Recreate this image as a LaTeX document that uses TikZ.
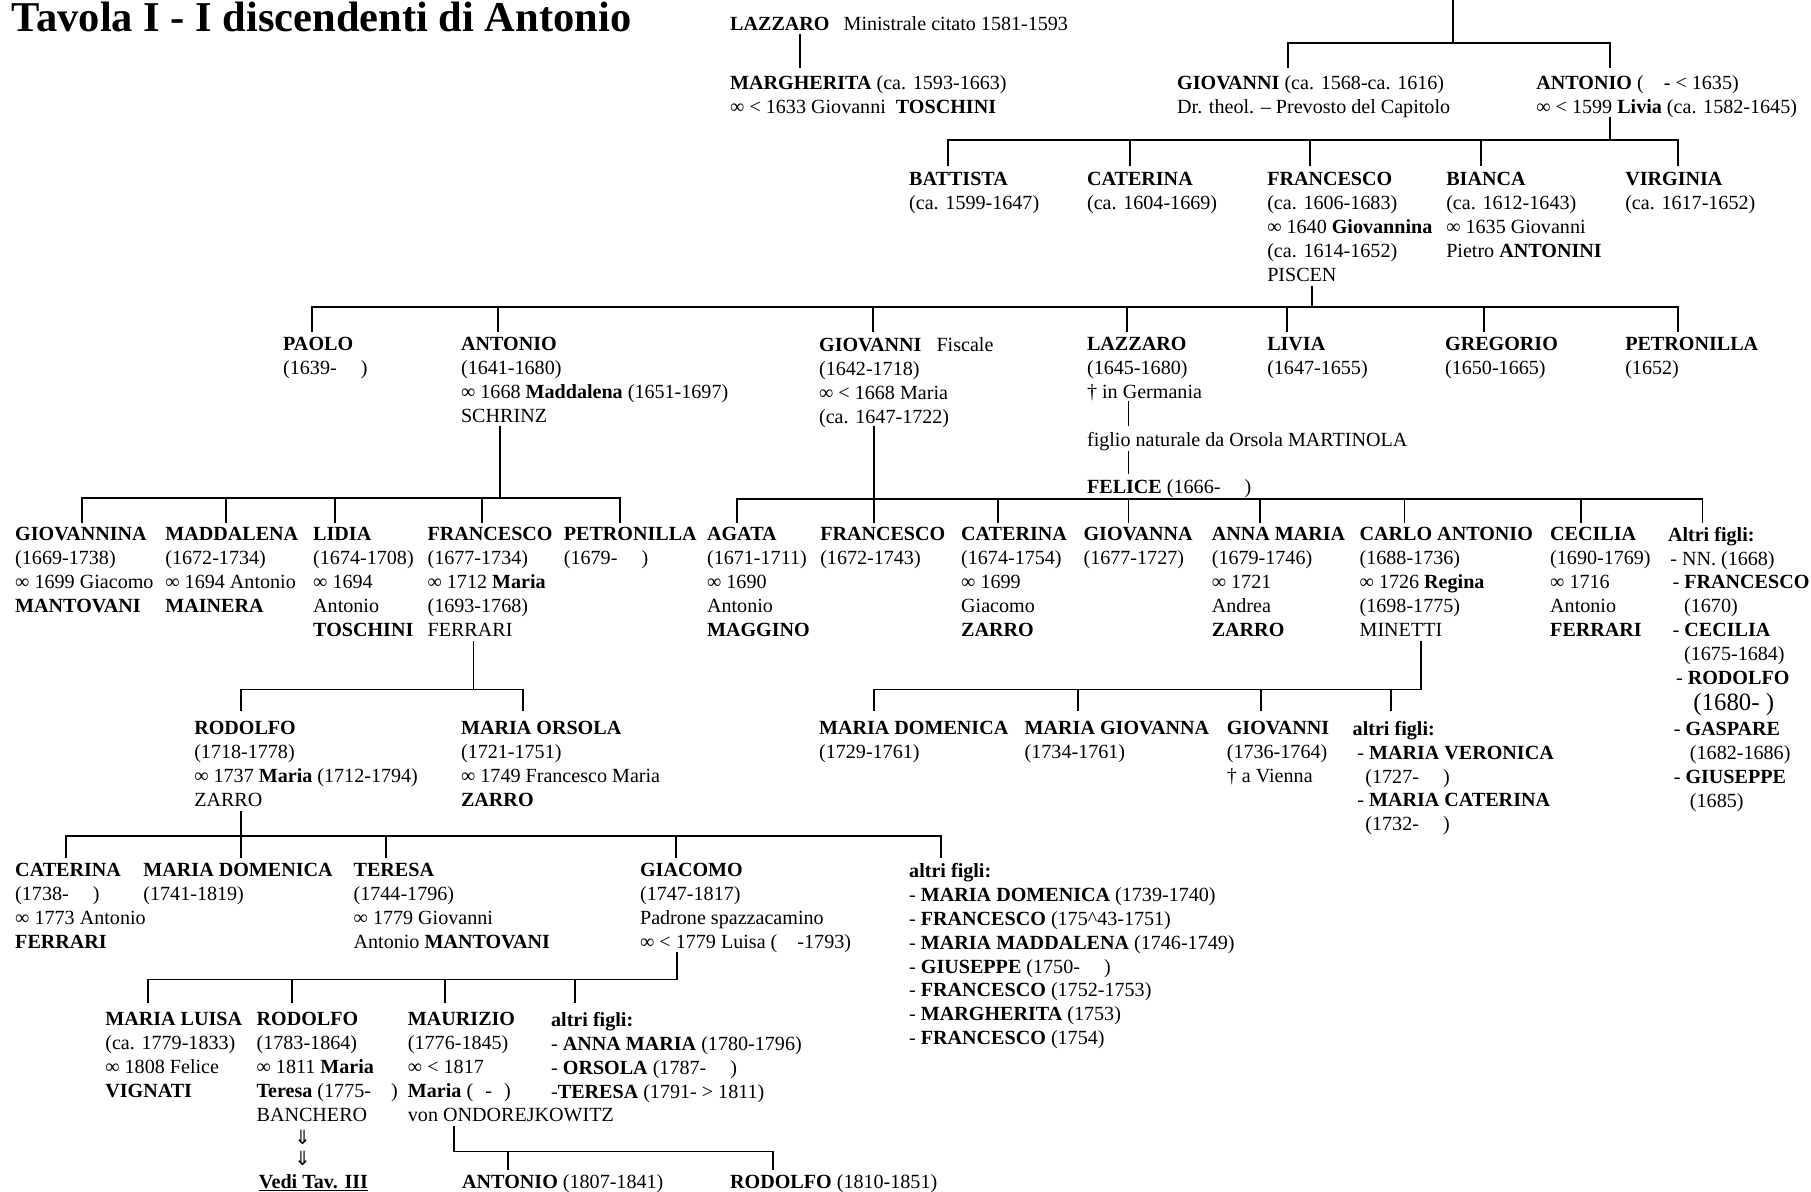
\documentclass[tikz,border=0pt]{standalone}
\usepackage{fontspec}
\usepackage{graphicx}
\setmainfont{Liberation Serif}
\newfontfamily\dejavu{DejaVu Sans}
\newcommand\mrg{∞}
\newcommand\dgap{\hspace{1.2em}}
\tikzset{
  blk/.style={anchor=north west, yshift=11pt, align=left, inner sep=0pt, font=\fontsize{17.4}{20.75}\selectfont, execute at begin node={\rule{0pt}{13pt}}},
  one/.style={anchor=base west, inner sep=0pt, font=\fontsize{17.4}{20.75}\selectfont},
  conn/.style={draw=black, line width=1.6pt, line cap=rect},
  arr/.style={inner sep=0pt, font=\dejavu\fontsize{17}{17}\selectfont}
}
% #1 parent x, #2 parent top y, #3 bar y, #4 child bottom y, #5 child xs, #6 name, #7 bar min x, #8 bar max x
\newcommand\famtree[8]{%
  \coordinate (#6p) at (#1,#2);
  \coordinate (#6b) at (#1,#3);
  \coordinate (#6l) at (#7,#3);
  \coordinate (#6r) at (#8,#3);
  \draw[conn] (#6p) -- (#6b);
  \draw[conn] (#6l) -- (#6r);
  \foreach \cx [count=\ci] in {#5} {
    \coordinate (#6t\ci) at (\cx,#3);
    \coordinate (#6c\ci) at (\cx,#4);
    \draw[conn] (#6t\ci) -- (#6c\ci);
  }%
}
\begin{document}
\begin{tikzpicture}[x=1pt,y=-1pt]
\useasboundingbox (0,0) rectangle (1568,1032);

% title
\node[anchor=base west, inner sep=0pt, font=\fontsize{36.8}{40}\selectfont\bfseries] (title) at (10,27) {Tavola I - I discendenti di Antonio};

% row 1
\node[one] (lazzaro0) at (632,26) {\textbf{LAZZARO}\hspace{0.7em}Ministrale citato 1581-1593};
\node[blk] (margherita) at (632,76) {\textbf{MARGHERITA} (ca. 1593-1663)\\\mrg{} < 1633 Giovanni\hspace{0.5em}\textbf{TOSCHINI}};
\node[blk] (giovanni0) at (1019,76) {\textbf{GIOVANNI} (ca. 1568-ca. 1616)\\Dr. theol. – Prevosto del Capitolo};
\node[blk] (antonio0) at (1330,76) {\textbf{ANTONIO} (\hspace{1em}- < 1635)\\\mrg{} < 1599 \textbf{Livia} (ca. 1582-1645)};

% row 2
\node[blk] (battista) at (787,160) {\textbf{BATTISTA}\\(ca. 1599-1647)};
\node[blk] (caterina1) at (941,160) {\textbf{CATERINA}\\(ca. 1604-1669)};
\node[blk] (francesco1) at (1097,160) {\textbf{FRANCESCO}\\(ca. 1606-1683)\\\mrg{} 1640 \textbf{Giovannina}\\(ca. 1614-1652)\\PISCEN};
\node[blk] (bianca) at (1252,160) {\textbf{BIANCA}\\(ca. 1612-1643)\\\mrg{} 1635 Giovanni\\Pietro \textbf{ANTONINI}};
\node[blk] (virginia) at (1407,160) {\textbf{VIRGINIA}\\(ca. 1617-1652)};

% row 3
\node[blk] (paolo) at (245,303) {\textbf{PAOLO}\\(1639-\dgap)};
\node[blk] (antonio2) at (399,303) {\textbf{ANTONIO}\\(1641-1680)\\\mrg{} 1668 \textbf{Maddalena} (1651-1697)\\SCHRINZ};
\node[blk] (giovanni2) at (709,303) {\textbf{GIOVANNI}\hspace{0.75em}Fiscale\\(1642-1718)\\\mrg{} < 1668 Maria\\(ca. 1647-1722)};
\node[blk] (lazzaro2) at (941,303) {\textbf{LAZZARO}\\(1645-1680)\\† in Germania};
\node[blk] (livia) at (1097,303) {\textbf{LIVIA}\\(1647-1655)};
\node[blk] (gregorio) at (1251,303) {\textbf{GREGORIO}\\(1650-1665)};
\node[blk] (petronilla2) at (1407,303) {\textbf{PETRONILLA}\\(1652)};
\node[one] (figlio) at (941,387) {figlio naturale da Orsola MARTINOLA};
\node[one] (felice) at (941,427) {\textbf{FELICE} (1666-\dgap)};

% row 4
\node[blk] (giovannina) at (13,467) {\textbf{GIOVANNINA}\\(1669-1738)\\\mrg{} 1699 Giacomo\\\textbf{MANTOVANI}};
\node[blk] (maddalena) at (143,467) {\textbf{MADDALENA}\\(1672-1734)\\\mrg{} 1694 Antonio\\\textbf{MAINERA}};
\node[blk] (lidia) at (271,467) {\textbf{LIDIA}\\(1674-1708)\\\mrg{} 1694\\Antonio\\\textbf{TOSCHINI}};
\node[blk] (francesco3) at (370,467) {\textbf{FRANCESCO}\\(1677-1734)\\\mrg{} 1712 \textbf{Maria}\\(1693-1768)\\FERRARI};
\node[blk] (petronilla3) at (488,467) {\textbf{PETRONILLA}\\(1679-\dgap)};
\node[blk] (agata) at (612,467) {\textbf{AGATA}\\(1671-1711)\\\mrg{} 1690\\Antonio\\\textbf{MAGGINO}};
\node[blk] (francesco4) at (710,467) {\textbf{FRANCESCO}\\(1672-1743)};
\node[blk] (caterina4) at (832,467) {\textbf{CATERINA}\\(1674-1754)\\\mrg{} 1699\\Giacomo\\\textbf{ZARRO}};
\node[blk] (giovanna) at (938,467) {\textbf{GIOVANNA}\\(1677-1727)};
\node[blk] (annamaria) at (1049,467) {\textbf{ANNA MARIA}\\(1679-1746)\\\mrg{} 1721\\Andrea\\\textbf{ZARRO}};
\node[blk] (carlo) at (1177,467) {\textbf{CARLO ANTONIO}\\(1688-1736)\\\mrg{} 1726 \textbf{Regina}\\(1698-1775)\\MINETTI};
\node[blk] (cecilia) at (1342,467) {\textbf{CECILIA}\\(1690-1769)\\\mrg{} 1716\\Antonio\\\textbf{FERRARI}};
\node[blk] (altri4a) at (1444,467) {\textbf{Altri figli:}\\\hspace{2pt}- NN. (1668)\\\hspace{4pt}- \textbf{FRANCESCO}\\\hspace{14pt}(1670)\\\hspace{4pt}- \textbf{CECILIA}\\\hspace{14pt}(1675-1684)\\\hspace{7pt}- \textbf{RODOLFO}};
\node[anchor=base west, inner sep=0pt, font=\fontsize{21.5}{24}\selectfont] (altri4b) at (1466,615) {(1680- )};
\node[blk] (altri4c) at (1449,636) {- \textbf{GASPARE}\\\hspace{14pt}(1682-1686)\\- \textbf{GIUSEPPE}\\\hspace{14pt}(1685)};

% row 5
\node[blk] (rodolfo5) at (168,635) {\textbf{RODOLFO}\\(1718-1778)\\\mrg{} 1737 \textbf{Maria} (1712-1794)\\ZARRO};
\node[blk] (mariaorsola) at (399,635) {\textbf{MARIA ORSOLA}\\(1721-1751)\\\mrg{} 1749 Francesco Maria\\\textbf{ZARRO}};
\node[blk] (mariadomenica5) at (709,635) {\textbf{MARIA DOMENICA}\\(1729-1761)};
\node[blk] (mariagiovanna) at (887,635) {\textbf{MARIA GIOVANNA}\\(1734-1761)};
\node[blk] (giovanni5) at (1062,635) {\textbf{GIOVANNI}\\(1736-1764)\\† a Vienna};
\node[blk] (altri5) at (1171,635) {\textbf{altri figli:}\\\hspace{4pt}- \textbf{MARIA VERONICA}\\\hspace{11pt}(1727-\dgap)\\\hspace{4pt}- \textbf{MARIA CATERINA}\\\hspace{11pt}(1732-\dgap)};

% row 6
\node[blk] (caterina6) at (13,758) {\textbf{CATERINA}\\(1738-\dgap)\\\mrg{} 1773 Antonio\\\textbf{FERRARI}};
\node[blk] (mariadomenica6) at (124,758) {\textbf{MARIA DOMENICA}\\(1741-1819)};
\node[blk] (teresa) at (306,758) {\textbf{TERESA}\\(1744-1796)\\\mrg{} 1779 Giovanni\\Antonio \textbf{MANTOVANI}};
\node[blk] (giacomo) at (554,758) {\textbf{GIACOMO}\\(1747-1817)\\Padrone spazzacamino\\\mrg{} < 1779 Luisa (\hspace{1em}-1793)};
\node[blk] (altri6) at (787,758) {\textbf{altri figli:}\\- \textbf{MARIA DOMENICA} (1739-1740)\\- \textbf{FRANCESCO} (175\textasciicircum 43-1751)\\- \textbf{MARIA MADDALENA} (1746-1749)\\- \textbf{GIUSEPPE} (1750-\dgap)\\- \textbf{FRANCESCO} (1752-1753)\\- \textbf{MARGHERITA} (1753)\\- \textbf{FRANCESCO} (1754)};

% row 7
\node[blk] (marialuisa) at (91,887) {\textbf{MARIA LUISA}\\(ca. 1779-1833)\\\mrg{} 1808 Felice\\\textbf{VIGNATI}};
\node[blk] (rodolfo7) at (222,887) {\textbf{RODOLFO}\\(1783-1864)\\\mrg{} 1811 \textbf{Maria}\\\textbf{Teresa} (1775-\hspace{1em})\\BANCHERO};
\node[blk] (maurizio) at (353,887) {\textbf{MAURIZIO}\\(1776-1845)\\\mrg{} < 1817\\\textbf{Maria} (\hspace{0.6em}-\hspace{0.6em})\\von ONDOREJKOWITZ};
\node[blk] (altri7) at (477,887) {\textbf{altri figli:}\\- \textbf{ANNA MARIA} (1780-1796)\\- \textbf{ORSOLA} (1787-\dgap)\\-\textbf{TERESA} (1791- > 1811)};

% row 8
\node[arr] (ar1) at (262,985) {⇓};
\node[arr] (ar2) at (262,1003) {⇓};
\node[one] (vedi) at (224,1029) {\textbf{\underline{Vedi Tav. III}}};
\node[one] (antonio8) at (400,1029) {\textbf{ANTONIO} (1807-1841)};
\node[one] (rodolfo8) at (632,1029) {\textbf{RODOLFO} (1810-1851)};

% connectors
\famtree{1258}{0}{37}{58}{1115,1394}{fa}{1115}{1394}
\coordinate (lz1) at (693,30); \coordinate (lz2) at (693,58);
\draw[conn] (lz1) -- (lz2);
\famtree{1394}{102}{121}{143}{821,978,1134,1282,1453}{fb}{821}{1453}
\famtree{1136}{248}{266}{287}{270,431,756,976,1114,1285,1453}{fc}{270}{1453}
\coordinate (lg1) at (977,348); \coordinate (lg2) at (977,368);
\coordinate (lg3) at (977,391); \coordinate (lg4) at (977,410);
\draw[conn] (lg1) -- (lg2);
\draw[conn] (lg3) -- (lg4);
\famtree{433}{370}{431}{452}{71,196,290,417,537}{fd}{71}{537}
\famtree{757}{370}{432}{452}{638,757,864,977,1091,1216,1369,1474}{fe}{638}{1474}
\famtree{410}{556}{597}{615}{209,453}{ff}{209}{453}
\famtree{1230}{556}{597}{615}{757,933,1092,1204}{fg}{757}{1230}
\famtree{209}{703}{724}{742}{57,209,334,585,815}{fh}{57}{815}
\famtree{586}{825}{848}{868}{128,253,385,498}{fi}{128}{586}
\famtree{393}{976}{997}{1012}{440,669}{fj}{393}{669}
\end{tikzpicture}
\end{document}
